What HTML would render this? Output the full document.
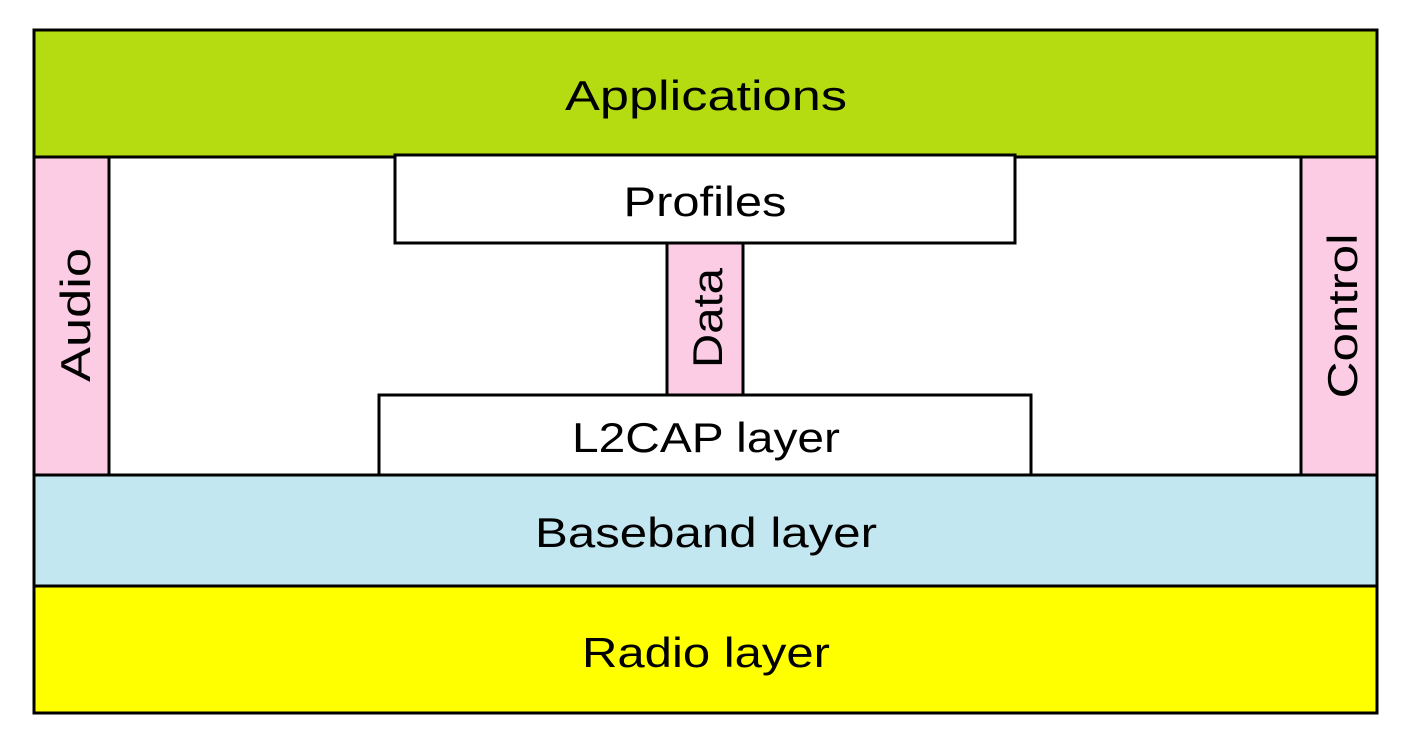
<!DOCTYPE html>
<html><head><style>html,body{margin:0;padding:0;background:#fff}svg{display:block}</style></head>
<body>
<svg width="1423" height="743" viewBox="0 0 1423 743" xmlns="http://www.w3.org/2000/svg" font-family="Liberation Sans, sans-serif" font-size="42" text-anchor="middle" fill="#000">
<rect x="0" y="0" width="1423" height="743" fill="#fff"/>
<rect x="34" y="30" width="1343" height="683" fill="#fff" stroke="#000" stroke-width="3"/>
<rect x="34" y="30" width="1343" height="127" fill="#b5dc10" stroke="#000" stroke-width="3"/>
<rect x="34" y="157" width="75" height="318" fill="#fccbe4" stroke="#000" stroke-width="3"/>
<rect x="1301" y="157" width="76" height="318" fill="#fccbe4" stroke="#000" stroke-width="3"/>
<rect x="395" y="155" width="620" height="88" fill="#fff" stroke="#000" stroke-width="3"/>
<rect x="667" y="243" width="76" height="152" fill="#fccbe4" stroke="#000" stroke-width="3"/>
<rect x="379" y="395" width="652" height="80" fill="#fff" stroke="#000" stroke-width="3"/>
<rect x="34" y="475" width="1343" height="111" fill="#c2e7f0" stroke="#000" stroke-width="3"/>
<rect x="34" y="586" width="1343" height="127" fill="#ffff00" stroke="#000" stroke-width="3"/>
<text x="706" y="110" textLength="282" lengthAdjust="spacingAndGlyphs">Applications</text>
<text x="705" y="216" textLength="163" lengthAdjust="spacingAndGlyphs">Profiles</text>
<text x="706" y="452" textLength="268" lengthAdjust="spacingAndGlyphs">L2CAP layer</text>
<text x="706" y="547" textLength="342" lengthAdjust="spacingAndGlyphs">Baseband layer</text>
<text x="706" y="667" textLength="248" lengthAdjust="spacingAndGlyphs">Radio layer</text>
<text transform="translate(90,315) rotate(-90)" textLength="134" lengthAdjust="spacingAndGlyphs">Audio</text>
<text transform="translate(722,318) rotate(-90)" textLength="100" lengthAdjust="spacingAndGlyphs">Data</text>
<text transform="translate(1357,316) rotate(-90)" textLength="165" lengthAdjust="spacingAndGlyphs">Control</text>
</svg>
</body></html>
